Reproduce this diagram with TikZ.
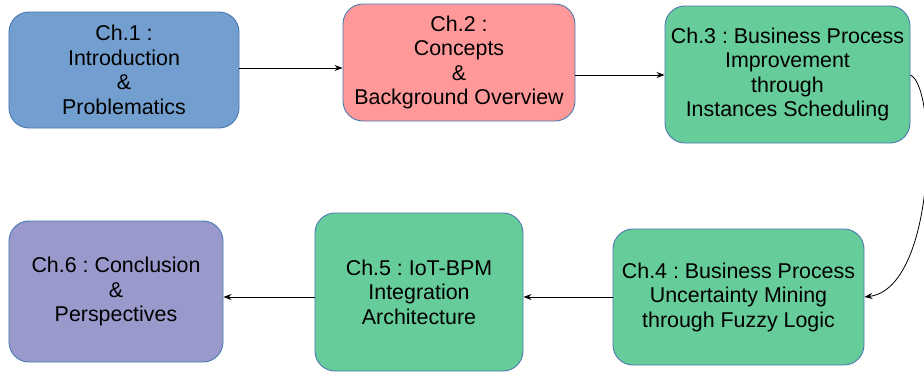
\documentclass[tikz,border=0pt]{standalone}
\usepackage{fontspec}
\setmainfont{Liberation Sans}
\usetikzlibrary{arrows.meta}
\definecolor{cblue}{HTML}{729FCF}
\definecolor{cred}{HTML}{FF9999}
\definecolor{cgreen}{HTML}{66CC99}
\definecolor{cpurple}{HTML}{9999CC}
\definecolor{cborder}{HTML}{4A78B0}
\frenchspacing
\begin{document}
\begin{tikzpicture}[x=1bp,y=-1bp,
  chap/.style={draw=cborder, line width=0.9bp, rounded corners=20bp, align=center,
    inner sep=0pt, font=\fontsize{21.4bp}{24.5bp}\selectfont, text=black},
  conn/.style={draw=black, line width=0.8bp, -{Stealth[length=8bp,width=6bp]}}]
\useasboundingbox (0,0) rectangle (924,376);
\node[chap, fill=cblue, minimum width=230bp, minimum height=116bp] (c1) at (124,70)
  {Ch.1 :\\Introduction\\\&\\Problematics};
\node[chap, fill=cred, minimum width=232bp, minimum height=117bp] (c2) at (459,62.5)
  {Ch.2 :\\Concepts\\\&\\Background Overview};
\node[chap, fill=cgreen, minimum width=245bp, minimum height=137bp] (c3) at (787.5,74.5)
  {Ch.3 : Business Process\\Improvement\\through\\Instances Scheduling};
\node[chap, fill=cgreen, minimum width=251bp, minimum height=136bp] (c4) at (738.5,297)
  {Ch.4 : Business Process\\Uncertainty Mining\\through Fuzzy Logic};
\node[chap, fill=cgreen, minimum width=208bp, minimum height=158bp] (c5) at (419,292)
  {Ch.5 : IoT-BPM\\Integration\\Architecture};
\node[chap, fill=cpurple, minimum width=214bp, minimum height=141bp] (c6) at (116,291.5)
  {Ch.6 : Conclusion\\\&\\Perspectives};
\draw[conn] (c1.east |- 0,68) -- (c2.west |- 0,68);
\draw[conn] (c2.east |- 0,75) -- (c3.west |- 0,75);
\draw[conn] (c3.east |- 0,75) .. controls (938,88) and (936,288) .. (c4.east |- 0,297);
\draw[conn] (c4.west |- 0,297) -- (c5.east |- 0,297);
\draw[conn] (c5.west |- 0,297) -- (c6.east |- 0,297);
\end{tikzpicture}
\end{document}
